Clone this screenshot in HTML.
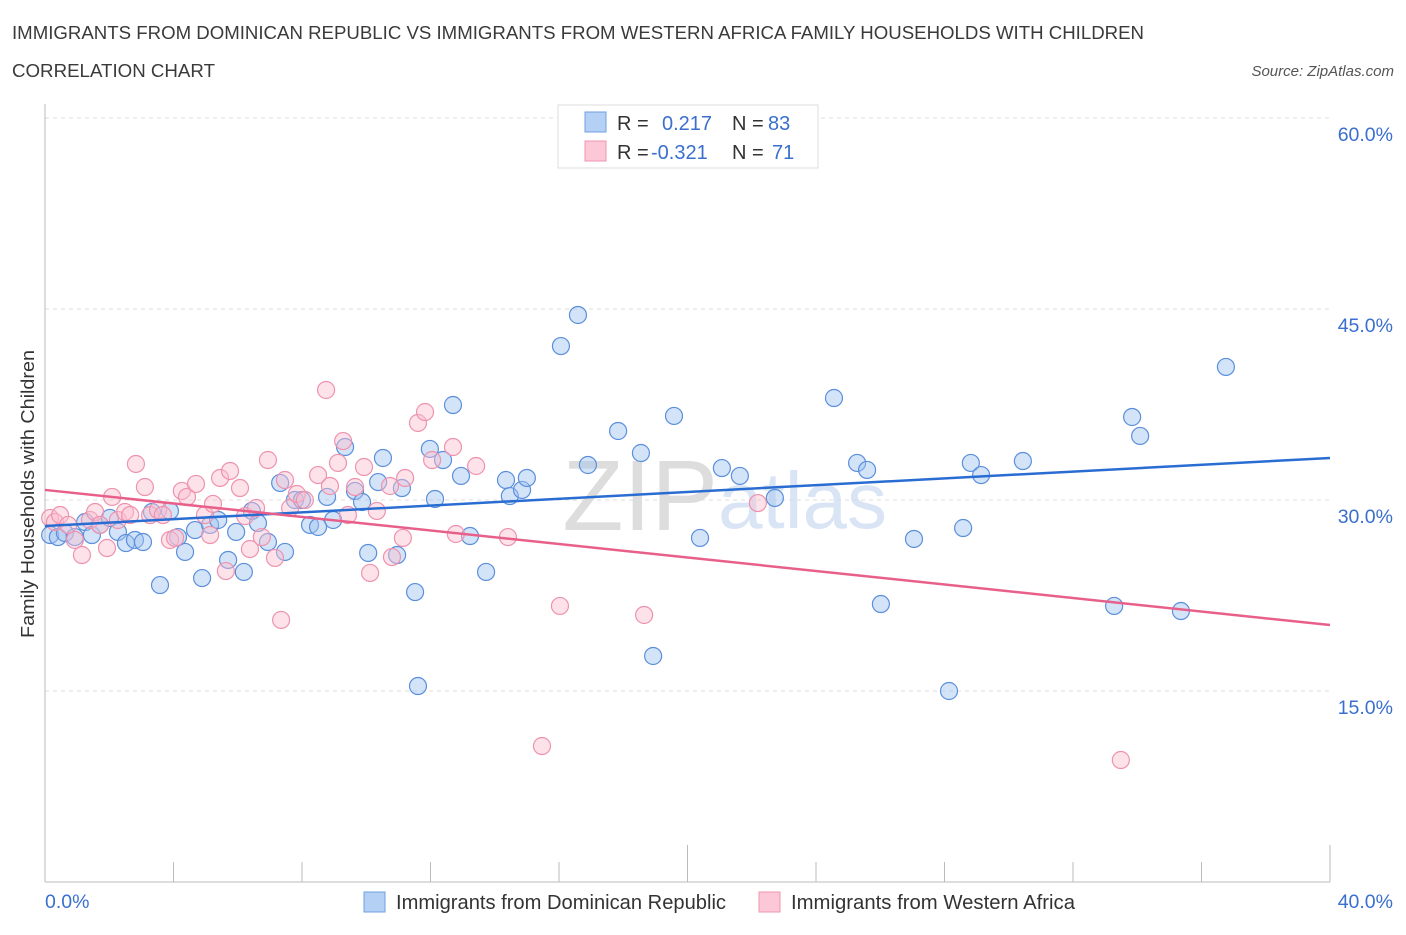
<!DOCTYPE html>
<html><head><meta charset="utf-8"><style>
body{margin:0;background:#fff;font-family:"Liberation Sans",sans-serif;}
svg text{font-family:"Liberation Sans",sans-serif;}
</style></head><body>
<svg id="chart" width="1406" height="930" viewBox="0 0 1406 930" xmlns="http://www.w3.org/2000/svg">
<text x="12" y="39" font-size="18" fill="#3a3a3a" textLength="1132" lengthAdjust="spacingAndGlyphs">IMMIGRANTS FROM DOMINICAN REPUBLIC VS IMMIGRANTS FROM WESTERN AFRICA FAMILY HOUSEHOLDS WITH CHILDREN</text>
<text x="12" y="77" font-size="18" fill="#3a3a3a" textLength="203" lengthAdjust="spacingAndGlyphs">CORRELATION CHART</text>
<text x="1394" y="76" font-size="15" font-style="italic" fill="#555" text-anchor="end">Source: ZipAtlas.com</text>
<g id="grid"></g>
<text x="718" y="530" font-size="100" fill="#ddd" text-anchor="end" font-family="Liberation Serif">ZIP</text>
<text x="718" y="528" font-size="80" fill="#c9daf0" opacity="0.7">atlas</text>
<g id="axes"></g>
<g id="pts"></g>
<g id="trends"></g>
<text transform="translate(34,494) rotate(-90)" font-size="18" fill="#333" text-anchor="middle" textLength="288" lengthAdjust="spacingAndGlyphs">Family Households with Children</text>
<g>
<rect x="558" y="105" width="260" height="63" fill="#fff" stroke="#ddd"/>
<rect x="585" y="112" width="21" height="20" fill="#b5d0f5" stroke="#6f9fe0"/>
<rect x="585" y="141" width="21" height="20" fill="#fcc8d8" stroke="#ef95b0"/>
<text x="617" y="130" font-size="20" fill="#333">R =</text>
<text x="662" y="130" font-size="20" fill="#3a6fce">0.217</text>
<text x="732" y="130" font-size="20" fill="#333">N =</text>
<text x="768" y="130" font-size="20" fill="#3a6fce">83</text>
<text x="617" y="159" font-size="20" fill="#333">R =</text>
<text x="651" y="159" font-size="20" fill="#3a6fce">-0.321</text>
<text x="732" y="159" font-size="20" fill="#333">N =</text>
<text x="772" y="159" font-size="20" fill="#3a6fce">71</text>
</g>
<g>
<rect x="364" y="892" width="21" height="20" fill="#b5d0f5" stroke="#6f9fe0"/>
<text x="396" y="909" font-size="20" fill="#333" textLength="330" lengthAdjust="spacingAndGlyphs">Immigrants from Dominican Republic</text>
<rect x="759" y="892" width="21" height="20" fill="#fcc8d8" stroke="#ef95b0"/>
<text x="791" y="909" font-size="20" fill="#333" textLength="284" lengthAdjust="spacingAndGlyphs">Immigrants from Western Africa</text>
</g>
</svg>
<script>
const blueX=[0.16,0.40,0.62,0.93,1.25,1.46,1.71,2.02,2.27,2.52,2.80,3.05,3.33,3.58,3.89,4.14,4.36,4.67,4.89,5.14,5.39,5.70,5.95,6.19,6.44,6.63,6.94,7.32,7.47,7.78,8.00,8.25,8.50,8.78,8.97,9.34,9.65,9.87,10.06,10.37,10.52,10.96,11.11,11.52,11.61,11.98,12.14,12.39,12.70,12.95,13.23,13.73,14.35,14.47,14.85,15.00,16.06,16.59,16.90,17.84,18.55,18.93,19.58,20.39,21.07,21.63,22.72,24.56,25.28,25.59,26.02,27.05,28.14,28.58,28.82,29.14,30.44,33.28,33.84,34.09,35.36,36.76];
const blueY=[27.25,27.09,27.41,27.09,28.27,27.25,28.04,28.59,27.49,26.62,26.86,26.70,29.06,23.32,29.14,27.09,25.92,27.64,23.87,28.04,28.43,25.29,27.49,24.35,29.14,28.19,26.70,31.34,25.92,30.0,30.0,28.04,27.88,30.24,28.43,34.16,30.71,29.84,25.84,31.41,33.30,25.68,30.94,22.77,15.39,34.01,30.08,33.14,37.46,31.89,27.17,24.35,31.57,30.31,30.79,31.73,42.09,44.53,32.75,35.42,33.69,17.75,36.60,27.02,32.51,31.89,30.16,38.01,32.91,32.36,21.83,26.94,15.0,27.80,32.91,31.96,33.06,21.68,36.52,35.03,21.28,40.45];
const pinkX=[0.16,0.31,0.47,0.72,0.93,1.15,1.40,1.56,1.71,1.93,2.09,2.27,2.49,2.65,2.83,3.11,3.27,3.52,3.67,3.89,4.05,4.26,4.42,4.70,4.98,5.14,5.23,5.45,5.63,5.76,6.07,6.23,6.38,6.57,6.75,6.94,7.16,7.35,7.47,7.63,7.84,8.09,8.50,8.75,8.87,9.12,9.28,9.43,9.65,9.93,10.12,10.33,10.74,10.80,11.14,11.21,11.61,11.83,12.05,12.70,12.79,13.42,14.41,15.47,16.03,18.65,22.19,33.49];
const pinkY=[28.59,28.27,28.82,28.04,26.86,25.68,28.43,29.06,28.04,26.23,30.24,28.43,29.06,28.82,32.83,31.02,28.82,29.21,28.82,26.86,27.02,30.71,30.24,31.26,28.82,27.25,29.69,31.73,24.42,32.28,30.94,28.74,26.15,29.37,27.09,33.14,25.45,20.58,31.57,29.37,30.47,30.0,31.96,38.64,31.10,32.91,34.63,28.82,31.02,32.59,24.27,29.14,31.10,25.52,27.02,31.73,36.05,36.91,33.14,34.16,27.33,32.67,27.09,10.68,21.68,20.97,29.76,9.58];
const blueTrend=[27.96,33.3];
const pinkTrend=[30.79,20.18];
const yTicks=[15,30,45,60];
const yTickLabels=["15.0%","30.0%","45.0%","60.0%"];
const xTickLabels=["0.0%","40.0%"];

const NS="http://www.w3.org/2000/svg";
const X0=45,X1=1330,Y0=882,YT=118;
const sx=v=>X0+v/40*(X1-X0);
const sy=v=>Y0-v/60*(Y0-YT);
function mk(tag,at,parent){const e=document.createElementNS(NS,tag);for(const k in at)e.setAttribute(k,at[k]);parent.appendChild(e);return e;}
const grid=document.getElementById('grid'),axes=document.getElementById('axes'),pts=document.getElementById('pts'),tr=document.getElementById('trends');
yTicks.forEach((t,i)=>{
  const l=mk('line',{x1:X0,x2:X1,y1:sy(t),y2:sy(t),stroke:'#ddd','stroke-dasharray':'4,4'},grid);
  
  
  const tx=mk('text',{x:1393,y:sy(t)+23,'font-size':19.5,fill:'#3a6fce','text-anchor':'end'},axes);
  tx.textContent=yTickLabels[i];
  
  
});
const ya=mk('line',{x1:X0,x2:X0,y1:104,y2:Y0,stroke:'#bbb'},axes);


const xa=mk('line',{x1:X0,x2:X1,y1:Y0,y2:Y0,stroke:'#bbb'},axes);


for(let i=0;i<=10;i++){
  const t=mk('line',{x1:sx(i*4),x2:sx(i*4),y1:i%5==0?845:862,y2:Y0,stroke:'#bbb'},axes);
  
  
}
[[0,'start',45],[40,'end',1393]].forEach((d,i)=>{
  const tx=mk('text',{x:d[2],y:908,'font-size':19.5,fill:'#3a6fce','text-anchor':d[1]},axes);
  tx.textContent=xTickLabels[i];
  
  
});
blueX.forEach((x,i)=>{
  const c=mk('circle',{cx:sx(x),cy:sy(blueY[i]),r:8.5,fill:'rgba(160,196,240,0.45)',stroke:'#5b8fdc','stroke-width':1.2},pts);
  
  
});
pinkX.forEach((x,i)=>{
  const c=mk('circle',{cx:sx(x),cy:sy(pinkY[i]),r:8.5,fill:'rgba(250,190,208,0.45)',stroke:'#ee93ae','stroke-width':1.2},pts);
  
  
});
const bl=mk('line',{x1:sx(0),y1:sy(blueTrend[0]),x2:sx(40),y2:sy(blueTrend[1]),stroke:'#2a6dd2','stroke-width':2.5},tr);


const pl=mk('line',{x1:sx(0),y1:sy(pinkTrend[0]),x2:sx(40),y2:sy(pinkTrend[1]),stroke:'#e8608a','stroke-width':2.5},tr);


</script>
</body></html>
